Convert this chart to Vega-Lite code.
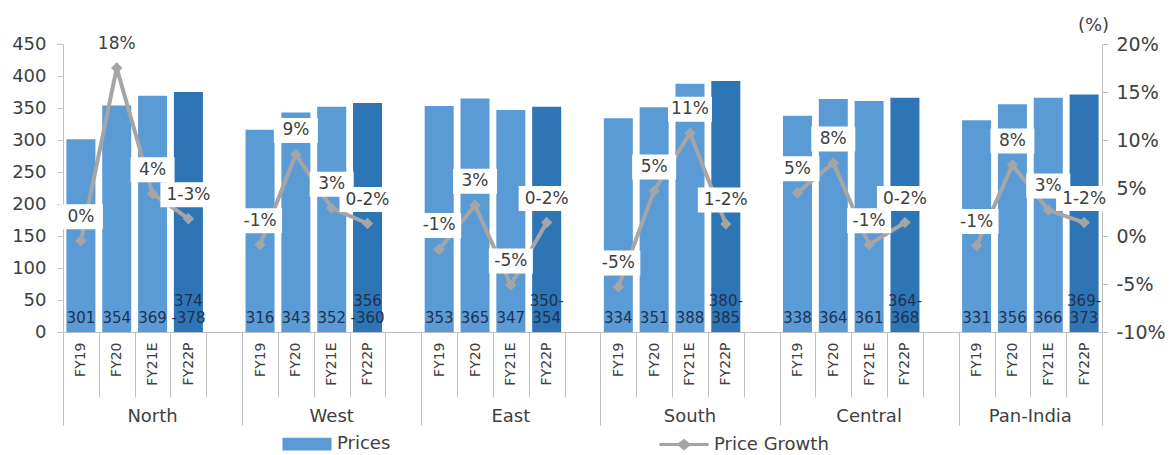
{
  "$schema": "https://vega.github.io/schema/vega-lite/v6.json",
  "width": 1039,
  "height": 288,
  "autosize": {"type": "none"},
  "padding": {"left": 63, "top": 44, "right": 68, "bottom": 123},
  "background": "white",
  "config": {"view": {"stroke": null}, "font": "DejaVu Sans", "axis": {"grid": false}},
  "data": {"values": [
    {"region": "North", "fy": "FY19", "slot": "North|FY19", "price": 301, "priceLabel": "301", "growth": -0.005, "growthLabel": "0%"},
    {"region": "North", "fy": "FY20", "slot": "North|FY20", "price": 354, "priceLabel": "354", "growth": 0.175, "growthLabel": "18%"},
    {"region": "North", "fy": "FY21E", "slot": "North|FY21E", "price": 369, "priceLabel": "369", "growth": 0.044, "growthLabel": "4%"},
    {"region": "North", "fy": "FY22P", "slot": "North|FY22P", "price": 375, "priceLabel": ["374", "-378"], "growth": 0.018, "growthLabel": "1-3%"},
    {"region": "West", "fy": "FY19", "slot": "West|FY19", "price": 316, "priceLabel": "316", "growth": -0.009, "growthLabel": "-1%"},
    {"region": "West", "fy": "FY20", "slot": "West|FY20", "price": 343, "priceLabel": "343", "growth": 0.085, "growthLabel": "9%"},
    {"region": "West", "fy": "FY21E", "slot": "West|FY21E", "price": 352, "priceLabel": "352", "growth": 0.029, "growthLabel": "3%"},
    {"region": "West", "fy": "FY22P", "slot": "West|FY22P", "price": 358, "priceLabel": ["356", "-360"], "growth": 0.013, "growthLabel": "0-2%"},
    {"region": "East", "fy": "FY19", "slot": "East|FY19", "price": 353, "priceLabel": "353", "growth": -0.014, "growthLabel": "-1%"},
    {"region": "East", "fy": "FY20", "slot": "East|FY20", "price": 365, "priceLabel": "365", "growth": 0.032, "growthLabel": "3%"},
    {"region": "East", "fy": "FY21E", "slot": "East|FY21E", "price": 347, "priceLabel": "347", "growth": -0.051, "growthLabel": "-5%"},
    {"region": "East", "fy": "FY22P", "slot": "East|FY22P", "price": 352, "priceLabel": ["350-", "354"], "growth": 0.014, "growthLabel": "0-2%"},
    {"region": "South", "fy": "FY19", "slot": "South|FY19", "price": 334, "priceLabel": "334", "growth": -0.053, "growthLabel": "-5%"},
    {"region": "South", "fy": "FY20", "slot": "South|FY20", "price": 351, "priceLabel": "351", "growth": 0.047, "growthLabel": "5%"},
    {"region": "South", "fy": "FY21E", "slot": "South|FY21E", "price": 388, "priceLabel": "388", "growth": 0.107, "growthLabel": "11%"},
    {"region": "South", "fy": "FY22P", "slot": "South|FY22P", "price": 392, "priceLabel": ["380-", "385"], "growth": 0.0125, "growthLabel": "1-2%"},
    {"region": "Central", "fy": "FY19", "slot": "Central|FY19", "price": 338, "priceLabel": "338", "growth": 0.045, "growthLabel": "5%"},
    {"region": "Central", "fy": "FY20", "slot": "Central|FY20", "price": 364, "priceLabel": "364", "growth": 0.076, "growthLabel": "8%"},
    {"region": "Central", "fy": "FY21E", "slot": "Central|FY21E", "price": 361, "priceLabel": "361", "growth": -0.009, "growthLabel": "-1%"},
    {"region": "Central", "fy": "FY22P", "slot": "Central|FY22P", "price": 366, "priceLabel": ["364-", "368"], "growth": 0.014, "growthLabel": "0-2%"},
    {"region": "Pan-India", "fy": "FY19", "slot": "Pan-India|FY19", "price": 331, "priceLabel": "331", "growth": -0.010, "growthLabel": "-1%"},
    {"region": "Pan-India", "fy": "FY20", "slot": "Pan-India|FY20", "price": 356, "priceLabel": "356", "growth": 0.074, "growthLabel": "8%"},
    {"region": "Pan-India", "fy": "FY21E", "slot": "Pan-India|FY21E", "price": 366, "priceLabel": "366", "growth": 0.027, "growthLabel": "3%"},
    {"region": "Pan-India", "fy": "FY22P", "slot": "Pan-India|FY22P", "price": 371, "priceLabel": ["369-", "373"], "growth": 0.014, "growthLabel": "1-2%"}
  ]},
  "layer": [
    {
      "transform": [{"filter": "datum.fy != 'FY22P'"}],
      "mark": {"type": "bar", "width": {"band": 0.81}},
      "encoding": {
        "x": {"field": "slot", "type": "nominal",
          "scale": {"domain": ["North|FY19","North|FY20","North|FY21E","North|FY22P","North|gap","West|FY19","West|FY20","West|FY21E","West|FY22P","West|gap","East|FY19","East|FY20","East|FY21E","East|FY22P","East|gap","South|FY19","South|FY20","South|FY21E","South|FY22P","South|gap","Central|FY19","Central|FY20","Central|FY21E","Central|FY22P","Central|gap","Pan-India|FY19","Pan-India|FY20","Pan-India|FY21E","Pan-India|FY22P"], "paddingInner": 0, "paddingOuter": 0},
          "axis": {"orient": "bottom", "title": null, "tickBand": "extent",
            "tickSize": {"condition": {"test": "!datum.value || indexof(datum.value, 'gap') >= 0 || datum.value == 'Pan-India|FY22P'", "value": 93}, "value": 65},
            "labelPadding": {"condition": {"test": "datum.value == 'Pan-India|FY22P'", "value": -83}, "value": -55},
            "tickColor": "#BFBFBF", "domainColor": "#BFBFBF", "labelAngle": -90, "labelAlign": "right", "labelBaseline": "middle",
            "labelFontSize": 14, "labelColor": "#404040", "labelOverlap": false,
            "labelExpr": "datum.value ? (indexof(datum.value, 'gap') >= 0 ? '' : split(datum.value, '|')[1]) : ''"}},
        "y": {"field": "price", "type": "quantitative", "scale": {"domain": [0, 450]},
          "axis": {"orient": "left", "values": [0,50,100,150,200,250,300,350,400,450], "title": null, "domainColor": "#BFBFBF", "tickColor": "#BFBFBF", "tickSize": 6, "labelPadding": 11, "labelFontSize": 18, "labelColor": "#404040"}},
        "color": {"datum": "Prices", "type": "nominal",
          "scale": {"domain": ["Prices", "Price Growth"], "range": ["#5B9BD5", "#A5A5A5"]},
          "legend": {"orient": "none", "legendX": 218, "legendY": 374, "direction": "horizontal", "columns": 2, "columnPadding": 262,
            "title": null, "labelFontSize": 18, "labelColor": "#404040", "symbolSize": 2401, "labelOffset": 4,
            "encode": {"symbols": {"update": {
              "shape": {"signal": "datum.value === 'Prices' ? 'M-0.94,-0.2H0.94V0.2H-0.94Z' : 'M-1,0H1M-0.2,0L0,-0.16L0.2,0L0,0.16Z'"},
              "fill": {"signal": "datum.value === 'Prices' ? '#5B9BD5' : '#A5A5A5'"},
              "stroke": {"signal": "datum.value === 'Prices' ? 'transparent' : '#A5A5A5'"},
              "strokeWidth": {"value": 3},
              "opacity": {"value": 1}}}}}}
      }
    },
    {
      "transform": [{"filter": "datum.fy == 'FY22P'"}],
      "mark": {"type": "bar", "width": {"band": 0.81}, "color": "#2E75B6"},
      "encoding": {
        "x": {"field": "slot", "type": "nominal",
          "scale": {"domain": ["North|FY19","North|FY20","North|FY21E","North|FY22P","North|gap","West|FY19","West|FY20","West|FY21E","West|FY22P","West|gap","East|FY19","East|FY20","East|FY21E","East|FY22P","East|gap","South|FY19","South|FY20","South|FY21E","South|FY22P","South|gap","Central|FY19","Central|FY20","Central|FY21E","Central|FY22P","Central|gap","Pan-India|FY19","Pan-India|FY20","Pan-India|FY21E","Pan-India|FY22P"], "paddingInner": 0, "paddingOuter": 0},
          "axis": null},
        "y": {"field": "price", "type": "quantitative", "scale": {"domain": [0, 450]}, "axis": null}
      }
    },
    {
      "transform": [{"filter": "datum.fy != 'FY22P'"}],
      "mark": {"type": "text", "baseline": "bottom", "dy": -6, "fontSize": 15, "color": "#1F3251"},
      "encoding": {
        "x": {"field": "slot", "type": "nominal",
          "scale": {"domain": ["North|FY19","North|FY20","North|FY21E","North|FY22P","North|gap","West|FY19","West|FY20","West|FY21E","West|FY22P","West|gap","East|FY19","East|FY20","East|FY21E","East|FY22P","East|gap","South|FY19","South|FY20","South|FY21E","South|FY22P","South|gap","Central|FY19","Central|FY20","Central|FY21E","Central|FY22P","Central|gap","Pan-India|FY19","Pan-India|FY20","Pan-India|FY21E","Pan-India|FY22P"], "paddingInner": 0, "paddingOuter": 0},
          "axis": {"orient": "bottom", "title": null, "values": ["North|FY21E","West|FY21E","East|FY21E","South|FY21E","Central|FY21E","Pan-India|FY21E"],
            "ticks": false, "domain": false, "labelAngle": 0, "labelAlign": "center", "labelBaseline": "middle", "labelPadding": 84,
            "labelFontSize": 18, "labelColor": "#404040", "labelOverlap": false,
            "labelExpr": "split(datum.value, '|')[0]",
            "labelOffset": {"condition": {"test": "datum.value == 'Pan-India|FY21E'", "value": -18}, "value": 0}}},
        "y": {"datum": 0, "type": "quantitative", "scale": {"domain": [0, 450]}, "axis": null},
        "text": {"field": "priceLabel", "type": "nominal"}
      }
    },
    {
      "transform": [{"filter": "datum.fy == 'FY22P'"}],
      "mark": {"type": "text", "baseline": "bottom", "dy": -23, "fontSize": 15, "color": "#1F3251", "lineHeight": 17},
      "encoding": {
        "x": {"field": "slot", "type": "nominal",
          "scale": {"domain": ["North|FY19","North|FY20","North|FY21E","North|FY22P","North|gap","West|FY19","West|FY20","West|FY21E","West|FY22P","West|gap","East|FY19","East|FY20","East|FY21E","East|FY22P","East|gap","South|FY19","South|FY20","South|FY21E","South|FY22P","South|gap","Central|FY19","Central|FY20","Central|FY21E","Central|FY22P","Central|gap","Pan-India|FY19","Pan-India|FY20","Pan-India|FY21E","Pan-India|FY22P"], "paddingInner": 0, "paddingOuter": 0},
          "axis": null},
        "y": {"datum": 0, "type": "quantitative", "scale": {"domain": [0, 450]}, "axis": null},
        "text": {"field": "priceLabel", "type": "nominal"}
      }
    },
    {
      "mark": {"type": "line", "color": "#A5A5A5", "strokeWidth": 4},
      "encoding": {
        "x": {"field": "slot", "type": "nominal",
          "scale": {"domain": ["North|FY19","North|FY20","North|FY21E","North|FY22P","North|gap","West|FY19","West|FY20","West|FY21E","West|FY22P","West|gap","East|FY19","East|FY20","East|FY21E","East|FY22P","East|gap","South|FY19","South|FY20","South|FY21E","South|FY22P","South|gap","Central|FY19","Central|FY20","Central|FY21E","Central|FY22P","Central|gap","Pan-India|FY19","Pan-India|FY20","Pan-India|FY21E","Pan-India|FY22P"], "paddingInner": 0, "paddingOuter": 0},
          "axis": null},
        "y": {"field": "growth", "type": "quantitative", "scale": {"domain": [-0.1, 0.2]},
          "axis": {"orient": "right", "values": [-0.1,-0.05,0,0.05,0.1,0.15,0.2],
            "labelExpr": "(datum.value < 0 ? '-' : '') + format(abs(datum.value), '.0%')",
            "title": "(%)", "titleAngle": 0, "titleX": -9, "titleY": -19, "titleAlign": "center", "titleBaseline": "middle",
            "titleFontWeight": "normal", "titleFontSize": 18, "titleColor": "#404040",
            "domainColor": "#BFBFBF", "tickColor": "#BFBFBF", "tickSize": 6, "labelPadding": 8, "labelFontSize": 19, "labelColor": "#404040"}},
        "detail": {"field": "region", "type": "nominal"},
        "color": {"datum": "Price Growth", "type": "nominal"}
      }
    },
    {
      "mark": {"type": "point", "shape": "diamond", "filled": true, "size": 130, "color": "#A5A5A5", "opacity": 1},
      "encoding": {
        "x": {"field": "slot", "type": "nominal",
          "scale": {"domain": ["North|FY19","North|FY20","North|FY21E","North|FY22P","North|gap","West|FY19","West|FY20","West|FY21E","West|FY22P","West|gap","East|FY19","East|FY20","East|FY21E","East|FY22P","East|gap","South|FY19","South|FY20","South|FY21E","South|FY22P","South|gap","Central|FY19","Central|FY20","Central|FY21E","Central|FY22P","Central|gap","Pan-India|FY19","Pan-India|FY20","Pan-India|FY21E","Pan-India|FY22P"], "paddingInner": 0, "paddingOuter": 0},
          "axis": null},
        "y": {"field": "growth", "type": "quantitative", "scale": {"domain": [-0.1, 0.2]}, "axis": null}
      }
    },
    {
      "transform": [{"filter": "length(datum.growthLabel) <= 3"}],
      "mark": {"type": "point", "shape": "M-1,-0.568H1V0.568H-1Z", "filled": true, "size": 1936, "color": "white", "opacity": 1, "yOffset": -24},
      "encoding": {
        "x": {"field": "slot", "type": "nominal",
          "scale": {"domain": ["North|FY19","North|FY20","North|FY21E","North|FY22P","North|gap","West|FY19","West|FY20","West|FY21E","West|FY22P","West|gap","East|FY19","East|FY20","East|FY21E","East|FY22P","East|gap","South|FY19","South|FY20","South|FY21E","South|FY22P","South|gap","Central|FY19","Central|FY20","Central|FY21E","Central|FY22P","Central|gap","Pan-India|FY19","Pan-India|FY20","Pan-India|FY21E","Pan-India|FY22P"], "paddingInner": 0, "paddingOuter": 0},
          "axis": null},
        "y": {"field": "growth", "type": "quantitative", "scale": {"domain": [-0.1, 0.2]}, "axis": null}
      }
    },
    {
      "transform": [{"filter": "length(datum.growthLabel) >= 4"}],
      "mark": {"type": "point", "shape": "M-1,-0.446H1V0.446H-1Z", "filled": true, "size": 3136, "color": "white", "opacity": 1, "yOffset": -24},
      "encoding": {
        "x": {"field": "slot", "type": "nominal",
          "scale": {"domain": ["North|FY19","North|FY20","North|FY21E","North|FY22P","North|gap","West|FY19","West|FY20","West|FY21E","West|FY22P","West|gap","East|FY19","East|FY20","East|FY21E","East|FY22P","East|gap","South|FY19","South|FY20","South|FY21E","South|FY22P","South|gap","Central|FY19","Central|FY20","Central|FY21E","Central|FY22P","Central|gap","Pan-India|FY19","Pan-India|FY20","Pan-India|FY21E","Pan-India|FY22P"], "paddingInner": 0, "paddingOuter": 0},
          "axis": null},
        "y": {"field": "growth", "type": "quantitative", "scale": {"domain": [-0.1, 0.2]}, "axis": null}
      }
    },
    {
      "mark": {"type": "text", "baseline": "middle", "dy": -24, "fontSize": 17, "color": "#404040"},
      "encoding": {
        "x": {"field": "slot", "type": "nominal",
          "scale": {"domain": ["North|FY19","North|FY20","North|FY21E","North|FY22P","North|gap","West|FY19","West|FY20","West|FY21E","West|FY22P","West|gap","East|FY19","East|FY20","East|FY21E","East|FY22P","East|gap","South|FY19","South|FY20","South|FY21E","South|FY22P","South|gap","Central|FY19","Central|FY20","Central|FY21E","Central|FY22P","Central|gap","Pan-India|FY19","Pan-India|FY20","Pan-India|FY21E","Pan-India|FY22P"], "paddingInner": 0, "paddingOuter": 0},
          "axis": null},
        "y": {"field": "growth", "type": "quantitative", "scale": {"domain": [-0.1, 0.2]}, "axis": null},
        "text": {"field": "growthLabel", "type": "nominal"}
      }
    }
  ],
  "resolve": {"scale": {"y": "independent"}, "axis": {"x": "independent", "y": "independent"}}
}
